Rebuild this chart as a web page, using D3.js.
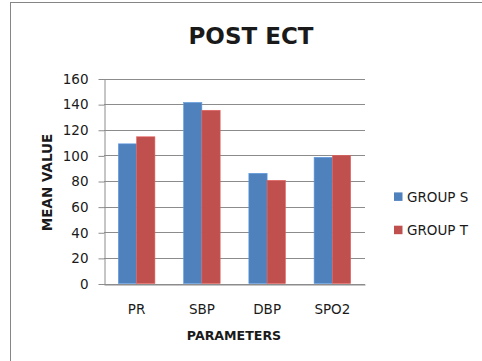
<!DOCTYPE html>
<html>
<head>
<meta charset="utf-8">
<script src="https://cdn.jsdelivr.net/npm/d3@7"></script>
<style>
  html, body { margin: 0; padding: 0; background: #fff; }
  svg { display: block; }
  text { font-family: "DejaVu Sans", sans-serif; fill: #1a1a1a; }
</style>
</head>
<body>
<svg id="chart" width="482" height="361"></svg>
<script>
// Mean values after ECT, per parameter and group
const categories = ["PR", "SBP", "DBP", "SPO2"];
const seriesNames = ["GROUP S", "GROUP T"];
const groupS = [109, 141.3, 86, 98.5];
const groupT = [114.5, 135.2, 80.5, 100];
const yTicks = [0, 20, 40, 60, 80, 100, 120, 140, 160];
const colors = ["#4F81BD", "#C0504D"];

const seriesValues = [groupS, groupT];
const rows = categories.map((c, i) => ({
  category: c,
  values: seriesNames.map((s, j) => ({ series: s, value: seriesValues[j][i] }))
}));

const svg = d3.select("#chart");

// Chart frame
svg.append("rect")
  .attr("x", 10.5).attr("y", 2.5)
  .attr("width", 520).attr("height", 420)
  .attr("fill", "#fff")
  .attr("stroke", "#868686")
  .attr("stroke-width", 1);

const plot = { left: 104, right: 365, top: 78.5, bottom: 283.5 };

const y = d3.scaleLinear().domain([0, 160]).range([plot.bottom, plot.top]);
const x = d3.scaleBand()
  .domain(categories)
  .range([plot.left, plot.right])
  .paddingInner(0.44)
  .paddingOuter(0.22);
const xSub = d3.scaleBand()
  .domain(seriesNames)
  .range([0, x.bandwidth()]);
const color = d3.scaleOrdinal().domain(seriesNames).range(colors);

// Horizontal gridlines
svg.append("g")
  .selectAll("line")
  .data(yTicks)
  .join("line")
  .attr("x1", plot.left).attr("x2", plot.right)
  .attr("y1", d => Math.round(y(d)) + 0.5)
  .attr("y2", d => Math.round(y(d)) + 0.5)
  .attr("stroke", "#8c8c8c")
  .attr("stroke-width", 1);

// Y axis
const yAxis = svg.append("g")
  .attr("transform", `translate(${plot.left + 0.5},0.5)`)
  .call(d3.axisLeft(y).tickValues(yTicks).tickSize(6).tickPadding(10).tickSizeOuter(0));
yAxis.select(".domain").attr("stroke", "#8c8c8c");
yAxis.selectAll(".tick line").attr("stroke", "#8c8c8c");
yAxis.selectAll(".tick text")
  .attr("font-family", "DejaVu Sans, sans-serif")
  .attr("font-size", 13.5)
  .attr("fill", "#1a1a1a");

// Bars
const groups = svg.append("g")
  .selectAll("g")
  .data(rows)
  .join("g")
  .attr("transform", d => `translate(${x(d.category)},0)`);

groups.selectAll("rect")
  .data(d => d.values)
  .join("rect")
  .attr("x", d => xSub(d.series))
  .attr("y", d => y(d.value))
  .attr("width", xSub.bandwidth())
  .attr("height", d => y(0) - y(d.value))
  .attr("fill", d => color(d.series))
  .attr("stroke", d => d3.color(color(d.series)).brighter(0.5))
  .attr("stroke-width", 0.6);

// X axis baseline
const xAxis = svg.append("g")
  .attr("transform", `translate(0,${Math.round(plot.bottom) + 0.5})`)
  .call(d3.axisBottom(x).tickSize(0).tickPadding(20).tickSizeOuter(0));
xAxis.select(".domain").attr("stroke", "#8c8c8c");
xAxis.selectAll(".tick text")
  .attr("font-family", "DejaVu Sans, sans-serif")
  .attr("font-size", 13.5)
  .attr("fill", "#1a1a1a");

// Title
svg.append("text")
  .attr("x", 251).attr("y", 36)
  .attr("text-anchor", "middle")
  .attr("dominant-baseline", "central")
  .attr("font-size", 23)
  .attr("font-weight", "bold")
  .attr("fill", "#000")
  .text("POST ECT");

// Axis titles
svg.append("text")
  .attr("x", 234).attr("y", 335)
  .attr("text-anchor", "middle")
  .attr("dominant-baseline", "central")
  .attr("font-size", 12.6)
  .attr("font-weight", "bold")
  .text("PARAMETERS");

svg.append("text")
  .attr("transform", "translate(46.5,182.5) rotate(-90)")
  .attr("text-anchor", "middle")
  .attr("dominant-baseline", "central")
  .attr("font-size", 13.5)
  .attr("font-weight", "bold")
  .text("MEAN VALUE");

// Legend
const legend = svg.append("g")
  .selectAll("g")
  .data(seriesNames)
  .join("g")
  .attr("transform", (d, i) => `translate(394,${196.7 + i * 33.3})`);
legend.append("rect")
  .attr("x", 0).attr("y", -4.3)
  .attr("width", 8.5).attr("height", 8.5)
  .attr("fill", d => color(d));
legend.append("text")
  .attr("x", 13).attr("y", 0)
  .attr("dominant-baseline", "central")
  .attr("font-size", 13.5)
  .attr("fill", "#333")
  .text(d => d);
</script>
</body>
</html>
